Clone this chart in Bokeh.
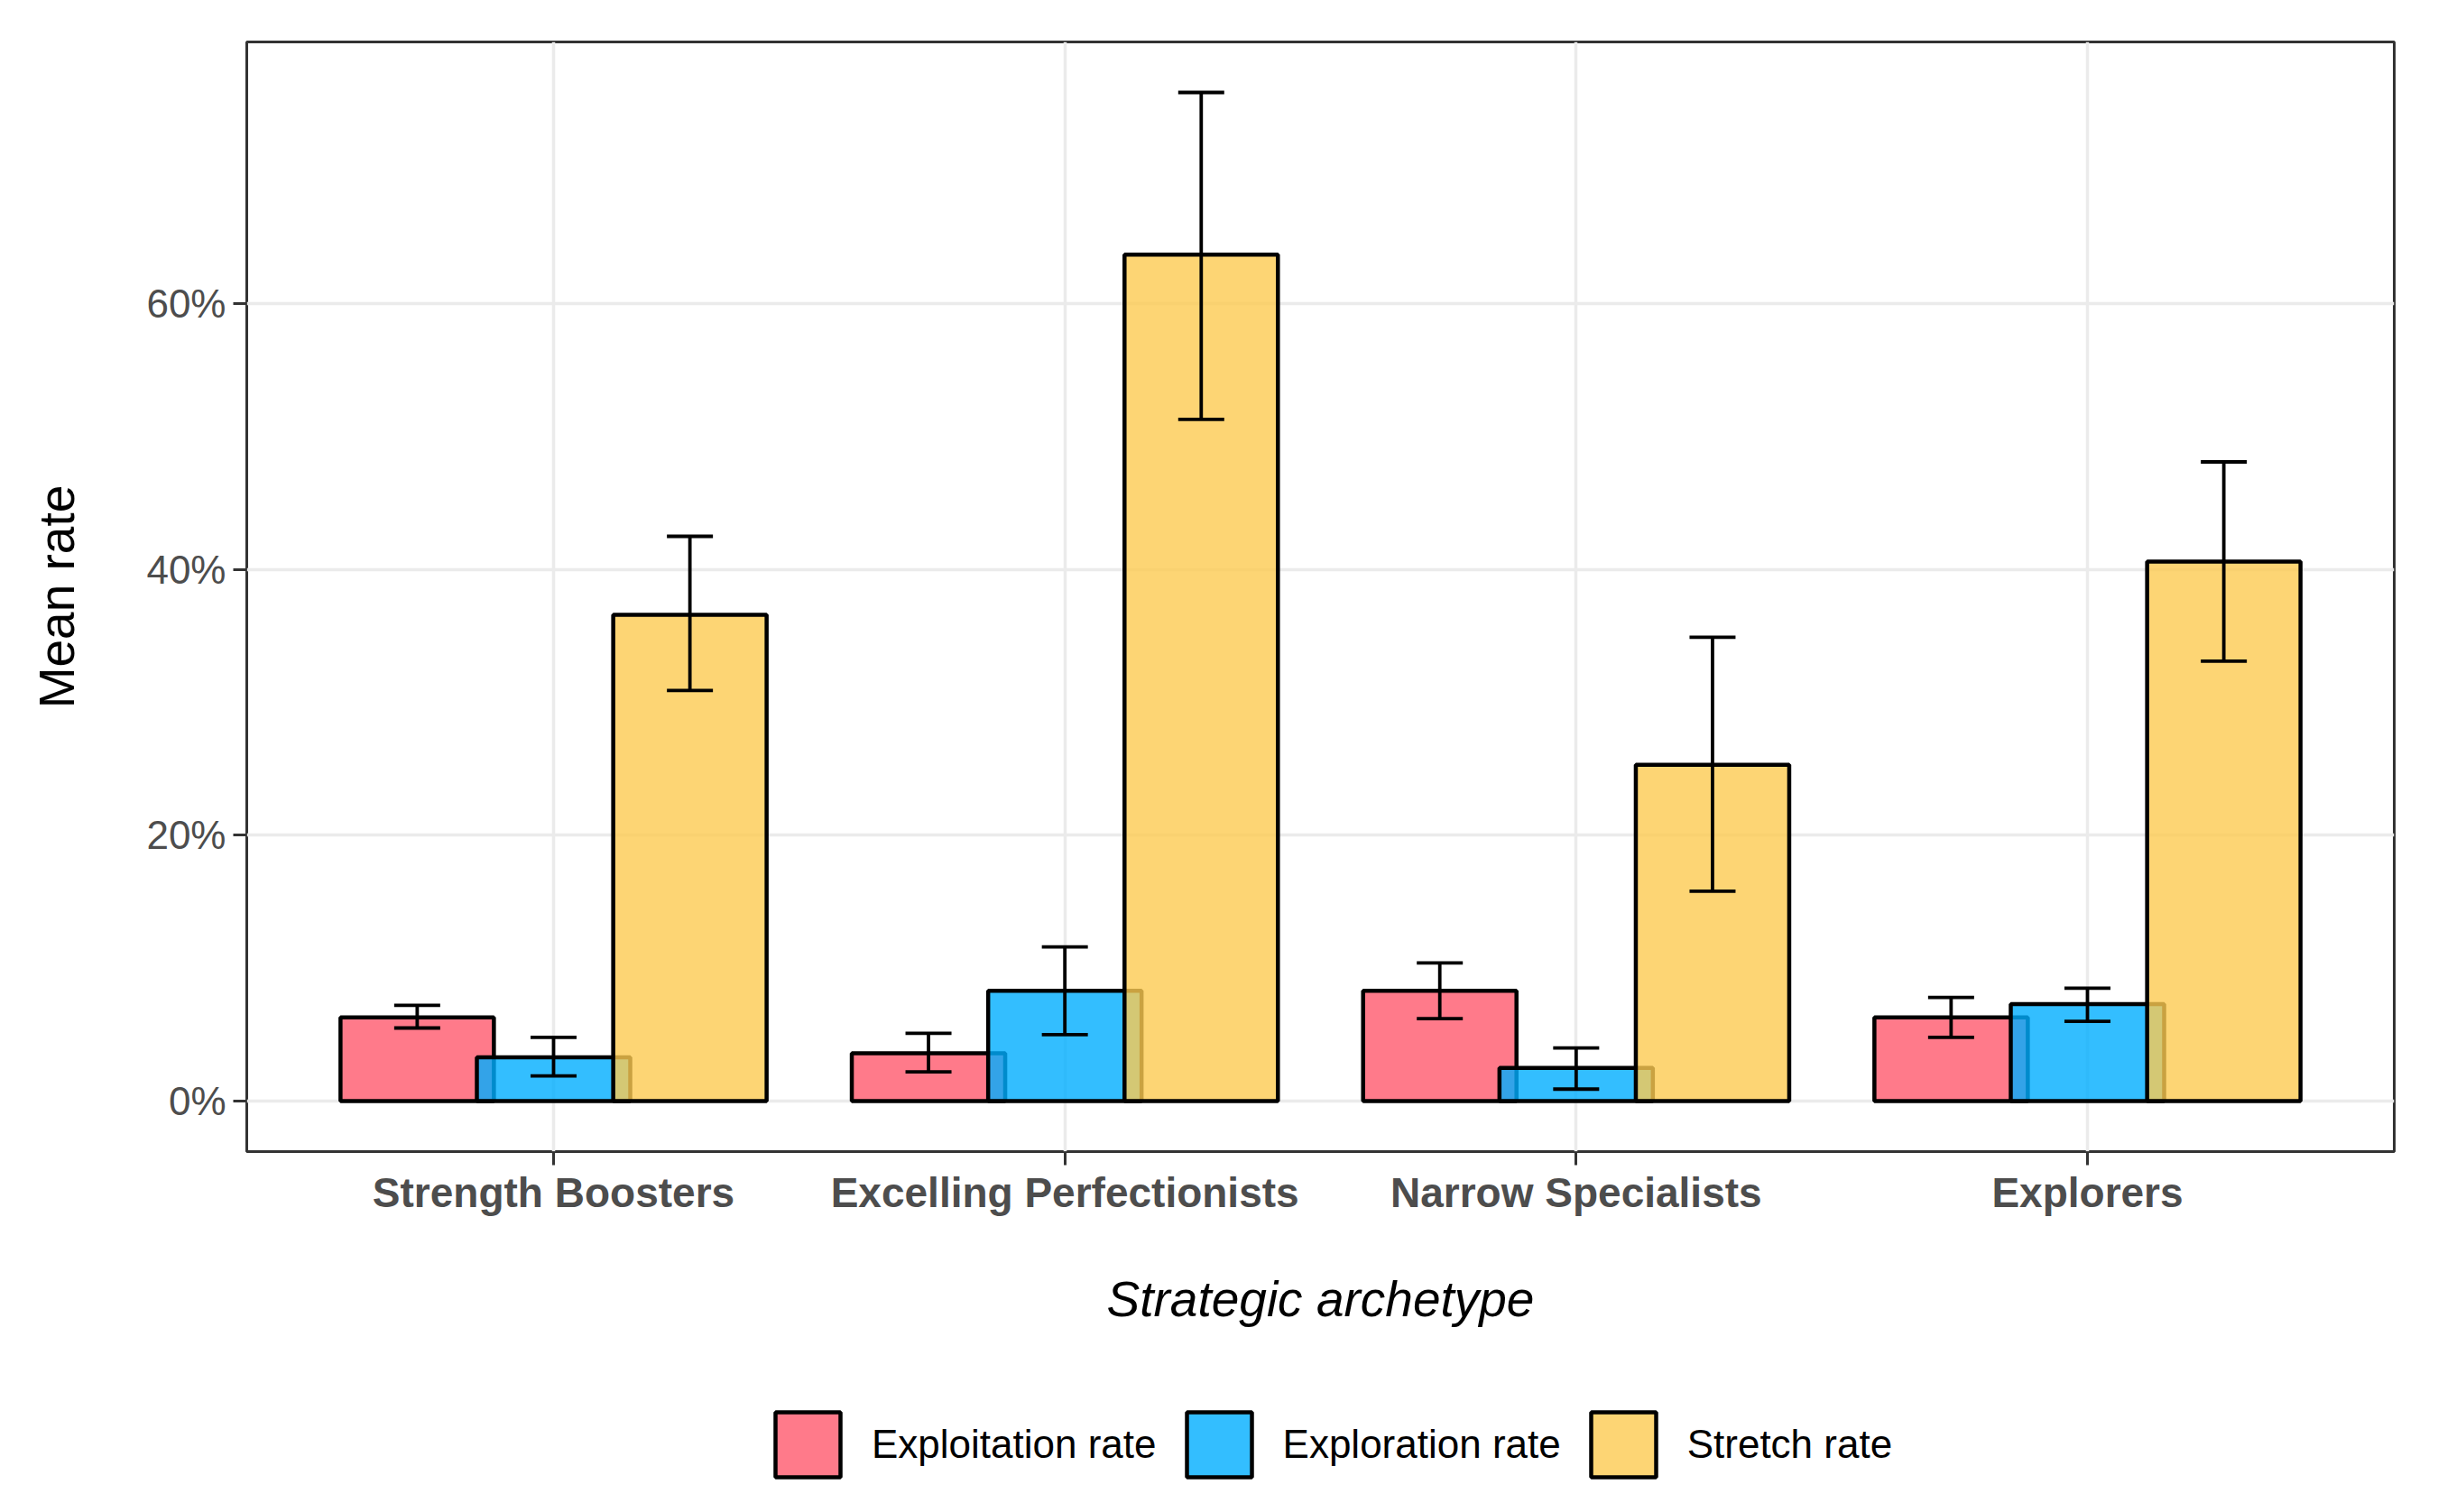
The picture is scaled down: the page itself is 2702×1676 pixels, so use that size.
from bokeh.plotting import figure
from bokeh.layouts import column
from bokeh.models import (ColumnDataSource, Range1d, FixedTicker, NumeralTickFormatter,
                          Legend, LegendItem)
from bokeh.transform import dodge
from bokeh.embed import file_html
from bokeh.resources import INLINE

# ---- data ----
categories = ["Strength Boosters", "Excelling Perfectionists", "Narrow Specialists", "Explorers"]
series_names = ["Exploitation rate", "Exploration rate", "Stretch rate"]

exploitation = [0.063, 0.036, 0.083, 0.063]
exploitation_lo = [0.055, 0.022, 0.062, 0.048]
exploitation_hi = [0.072, 0.051, 0.104, 0.078]

exploration = [0.033, 0.083, 0.025, 0.073]
exploration_lo = [0.019, 0.050, 0.009, 0.060]
exploration_hi = [0.048, 0.116, 0.040, 0.085]

stretch = [0.366, 0.637, 0.253, 0.406]
stretch_lo = [0.309, 0.513, 0.158, 0.331]
stretch_hi = [0.425, 0.759, 0.349, 0.481]

y_ticks = [0.0, 0.2, 0.4, 0.6]

# ---- styles ----
colors = ["#FF596D", "#00AEFF", "#FCCA51"]
offsets = [-0.2667, 0.0, 0.2667]
bar_width = 0.3
cap_half = 0.045
FONT = "Liberation Sans"
BORDER_L, BORDER_R = 273, 33

pos = list(range(1, len(categories) + 1))

p = figure(width=2686, height=1500, output_backend="svg", toolbar_location=None,
           x_range=Range1d(0.4, 4.6), y_range=Range1d(-0.038, 0.797),
           min_border_left=BORDER_L, min_border_right=BORDER_R, min_border_top=46,
           min_border_bottom=224)

p.background_fill_color = "white"
p.border_fill_color = "white"
p.outline_line_color = "#333333"
p.outline_line_width = 3

series = [
    (exploitation, exploitation_lo, exploitation_hi),
    (exploration, exploration_lo, exploration_hi),
    (stretch, stretch_lo, stretch_hi),
]

sources = []
for (vals, lo, hi), col, off in zip(series, colors, offsets):
    src = ColumnDataSource(dict(pos=pos, val=vals, lo=lo, hi=hi))
    sources.append((src, off))
    p.vbar(x=dodge("pos", off, range=p.x_range), top="val", bottom=0, width=bar_width,
           source=src, fill_color=col, fill_alpha=0.8, line_color="black",
           line_width=4.5)

for src, off in sources:
    p.segment(x0=dodge("pos", off, range=p.x_range), x1=dodge("pos", off, range=p.x_range),
              y0="lo", y1="hi", source=src, line_color="black", line_width=3.8)
    for fld in ("lo", "hi"):
        p.segment(x0=dodge("pos", off - cap_half, range=p.x_range),
                  x1=dodge("pos", off + cap_half, range=p.x_range),
                  y0=fld, y1=fld, source=src, line_color="black", line_width=3.8)

# ---- axes ----
xa = p.xaxis[0]
xa.ticker = FixedTicker(ticks=pos)
xa.major_label_overrides = {i: c for i, c in zip(pos, categories)}
xa.axis_label = "Strategic archetype"
xa.axis_label_text_font = FONT
xa.axis_label_text_font_size = "55px"
xa.axis_label_text_font_style = "italic"
xa.axis_label_text_color = "black"
xa.axis_label_standoff = 58
xa.major_label_text_font = FONT
xa.major_label_text_font_size = "46px"
xa.major_label_text_font_style = "bold"
xa.major_label_text_color = "#4D4D4D"
xa.major_label_standoff = 4

ya = p.yaxis[0]
ya.ticker = FixedTicker(ticks=y_ticks)
ya.formatter = NumeralTickFormatter(format="0%")
ya.axis_label = "Mean rate"
ya.axis_label_text_font = FONT
ya.axis_label_text_font_size = "55px"
ya.axis_label_text_font_style = "normal"
ya.axis_label_text_color = "black"
ya.axis_label_standoff = 65
ya.major_label_text_font = FONT
ya.major_label_text_font_size = "44px"
ya.major_label_text_color = "#4D4D4D"
ya.major_label_standoff = 8

for ax in (xa, ya):
    ax.axis_line_color = None
    ax.major_tick_line_color = "#333333"
    ax.major_tick_line_width = 3
    ax.major_tick_out = 15
    ax.major_tick_in = 0
    ax.minor_tick_line_color = None

p.xgrid.grid_line_color = "#EBEBEB"
p.xgrid.grid_line_width = 3.5
p.ygrid.grid_line_color = "#EBEBEB"
p.ygrid.grid_line_width = 3.5
p.ygrid.ticker = FixedTicker(ticks=y_ticks)

# ---- legend strip (separate figure below the chart) ----
lg = figure(width=2686, height=160, output_backend="svg", toolbar_location=None,
            x_range=Range1d(0, 1), y_range=Range1d(0, 1),
            x_axis_location=None, y_axis_location=None,
            min_border_left=BORDER_L, min_border_right=BORDER_R,
            min_border_top=54, min_border_bottom=0)
lg.outline_line_color = None
lg.xgrid.visible = False
lg.ygrid.visible = False
lg.background_fill_color = "white"
lg.border_fill_color = "white"

key_renderers = []
for col in colors:
    # degenerate (zero-size) bar: only its legend key is visible
    r = lg.vbar(x=[0.5], top=[0.0], bottom=[0.0], width=0.0, fill_color=col, fill_alpha=0.8,
                line_color="black", line_width=4.5)
    key_renderers.append(r)

legend = Legend(
    items=[LegendItem(label=n, renderers=[r]) for n, r in zip(series_names, key_renderers)],
    orientation="horizontal", location=(577, 14),
    glyph_width=90, glyph_height=90, label_standoff=26, spacing=24,
    label_text_font=FONT, label_text_font_size="44px", label_text_color="black",
    border_line_color=None, background_fill_alpha=0, padding=0, margin=0,
)
lg.add_layout(legend, "center")

layout = column(p, lg, spacing=0)
open("out.html", "w").write(file_html(layout, INLINE))
